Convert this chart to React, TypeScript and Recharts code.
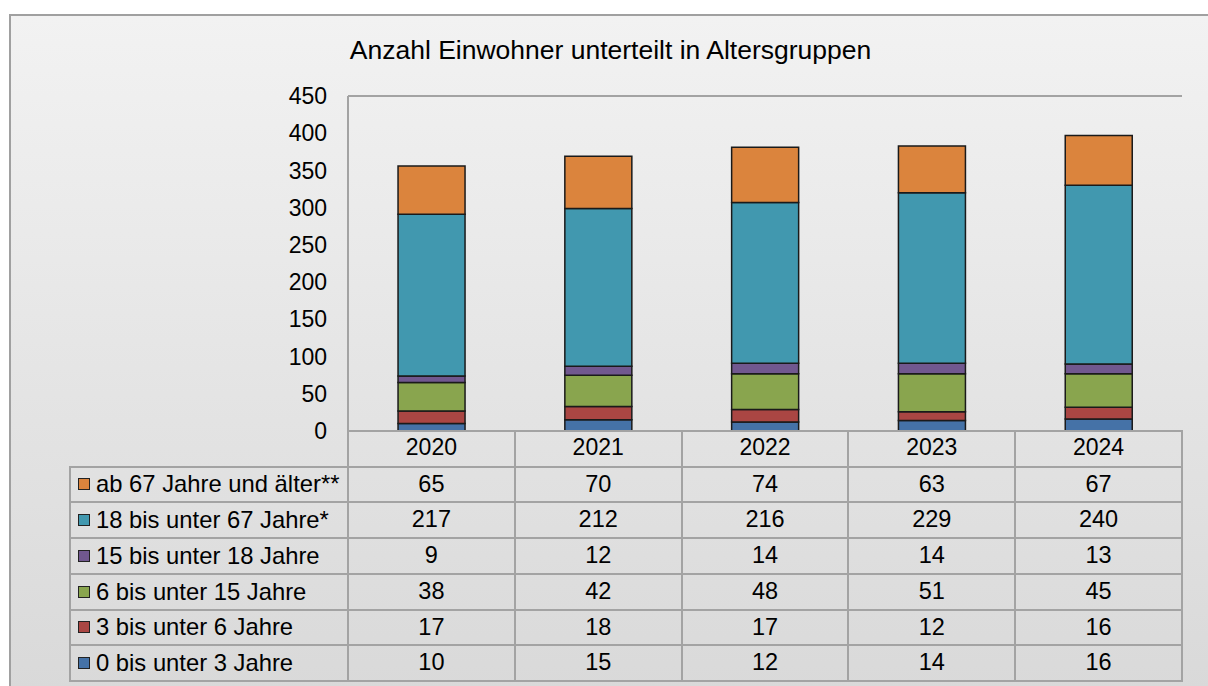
import { BarChart, Bar, XAxis, YAxis, CartesianGrid } from 'recharts';

const years = ['2020', '2021', '2022', '2023', '2024'];
const age0to3 = [10, 15, 12, 14, 16];
const age3to6 = [17, 18, 17, 12, 16];
const age6to15 = [38, 42, 48, 51, 45];
const age15to18 = [9, 12, 14, 14, 13];
const age18to67 = [217, 212, 216, 229, 240];
const age67plus = [65, 70, 74, 63, 67];
const yTicks = [0, 50, 100, 150, 200, 250, 300, 350, 400, 450];

// stacking order, bottom to top
const series = [
  { key: 'a0', name: '0 bis unter 3 Jahre', color: '#4572A7', values: age0to3 },
  { key: 'a3', name: '3 bis unter 6 Jahre', color: '#AA4643', values: age3to6 },
  { key: 'a6', name: '6 bis unter 15 Jahre', color: '#89A54E', values: age6to15 },
  { key: 'a15', name: '15 bis unter 18 Jahre', color: '#71588F', values: age15to18 },
  { key: 'a18', name: '18 bis unter 67 Jahre*', color: '#4198AF', values: age18to67 },
  { key: 'a67', name: 'ab 67 Jahre und älter**', color: '#DB843D', values: age67plus },
];

const data = years.map((year, i) => {
  const row: Record<string, string | number> = { year };
  series.forEach((s) => {
    row[s.key] = s.values[i];
  });
  return row;
});

const W = 1208;
const H = 686;
const PLOT_LEFT = 348;
const PLOT_RIGHT = 1182;
const PLOT_TOP = 96;
const PLOT_BOTTOM = 431;
const HEADER_H = 35.5;
const ROW_H = 35.75;
const TABLE_LEFT = 70;
const LINE = '#a3a3a3';
const FONT = '"Liberation Sans", Arial, sans-serif';

export default function App() {
  const colW = (PLOT_RIGHT - PLOT_LEFT) / years.length;
  const tableTop = PLOT_BOTTOM + HEADER_H;
  const tableRows = [...series].reverse();
  const tableBottom = tableTop + tableRows.length * ROW_H;

  const hLine = (y: number, x1: number, x2: number, k: string) => (
    <div key={k} style={{ position: 'absolute', left: x1 - 1, top: y - 1, width: x2 - x1 + 2, height: 2, background: LINE }} />
  );
  const vLine = (x: number, y1: number, y2: number, k: string) => (
    <div key={k} style={{ position: 'absolute', left: x - 1, top: y1 - 1, width: 2, height: y2 - y1 + 2, background: LINE }} />
  );

  return (
    <div style={{ position: 'absolute', left: 0, top: 0, width: W, height: H, overflow: 'hidden', background: '#fff', fontFamily: FONT }}>
      <div
        style={{
          position: 'absolute',
          left: 9,
          top: 14,
          width: W + 20,
          height: H + 20,
          border: '2px solid #a0a0a0',
          background: 'linear-gradient(#f2f2f2, #d8d8d8)',
          boxSizing: 'border-box',
        }}
      />
      <div
        style={{
          position: 'absolute',
          left: 610.5,
          top: 37,
          transform: 'translateX(-50%)',
          fontSize: 26.5,
          lineHeight: 1,
          whiteSpace: 'nowrap',
          color: '#000',
        }}
      >
        Anzahl Einwohner unterteilt in Altersgruppen
      </div>

      <div style={{ position: 'absolute', left: 0, top: 0 }}>
        <BarChart
          width={W}
          height={PLOT_BOTTOM + HEADER_H}
          data={data}
          margin={{ top: PLOT_TOP, right: W - PLOT_RIGHT, bottom: 0, left: 0 }}
          barCategoryGap="30%"
        >
          <CartesianGrid vertical={false} stroke={LINE} strokeWidth={2} />
          <XAxis
            dataKey="year"
            height={HEADER_H}
            axisLine={{ stroke: LINE, strokeWidth: 2 }}
            tickLine={false}
            tick={{ fontSize: 23, fill: '#000', fontFamily: FONT }}
          />
          <YAxis
            yAxisId="left"
            width={PLOT_LEFT}
            domain={[0, 450]}
            ticks={yTicks}
            interval={0}
            axisLine={{ stroke: LINE, strokeWidth: 2 }}
            tickLine={false}
            tickMargin={15}
            tick={{ fontSize: 23, fill: '#000', fontFamily: FONT }}
          />
          <YAxis
            yAxisId="right"
            orientation="right"
            width={0}
            domain={[0, 450]}
            ticks={yTicks}
            tick={false}
            tickLine={false}
            axisLine={{ stroke: LINE, strokeWidth: 2 }}
          />
          {series.map((s) => (
            <Bar
              key={s.key}
              yAxisId="left"
              dataKey={s.key}
              name={s.name}
              stackId="a"
              fill={s.color}
              stroke="#1a1a1a"
              strokeWidth={1.5}
              isAnimationActive={false}
            />
          ))}
        </BarChart>
      </div>

      {/* data table below the plot */}
      {tableRows.map((s, i) => {
        const top = tableTop + i * ROW_H;
        return (
          <div key={s.key}>
            <div
              style={{
                position: 'absolute',
                left: TABLE_LEFT,
                top,
                width: PLOT_LEFT - TABLE_LEFT,
                height: ROW_H,
                display: 'flex',
                alignItems: 'center',
                fontSize: 23.8,
                lineHeight: 1,
                whiteSpace: 'nowrap',
              }}
            >
              <span
                style={{
                  display: 'inline-block',
                  flex: 'none',
                  width: 10,
                  height: 10,
                  marginLeft: 8,
                  marginRight: 6,
                  background: s.color,
                  border: '1px solid #222',
                }}
              />
              {s.name}
            </div>
            {s.values.map((v, j) => (
              <div
                key={j}
                style={{
                  position: 'absolute',
                  left: PLOT_LEFT + j * colW,
                  top,
                  width: colW,
                  height: ROW_H,
                  display: 'flex',
                  alignItems: 'center',
                  justifyContent: 'center',
                  fontSize: 23.5,
                  lineHeight: 1,
                }}
              >
                {v}
              </div>
            ))}
          </div>
        );
      })}
      {tableRows.map((s, i) => hLine(tableTop + i * ROW_H, TABLE_LEFT, PLOT_RIGHT, 'h' + s.key))}
      {hLine(tableBottom, TABLE_LEFT, PLOT_RIGHT, 'hb')}
      {vLine(TABLE_LEFT, tableTop, tableBottom, 'vl')}
      {years.map((y, j) => vLine(PLOT_LEFT + (j + 1) * colW, PLOT_BOTTOM, tableBottom, 'v' + y))}
      {vLine(PLOT_LEFT, PLOT_BOTTOM, tableBottom, 'v0')}
    </div>
  );
}
